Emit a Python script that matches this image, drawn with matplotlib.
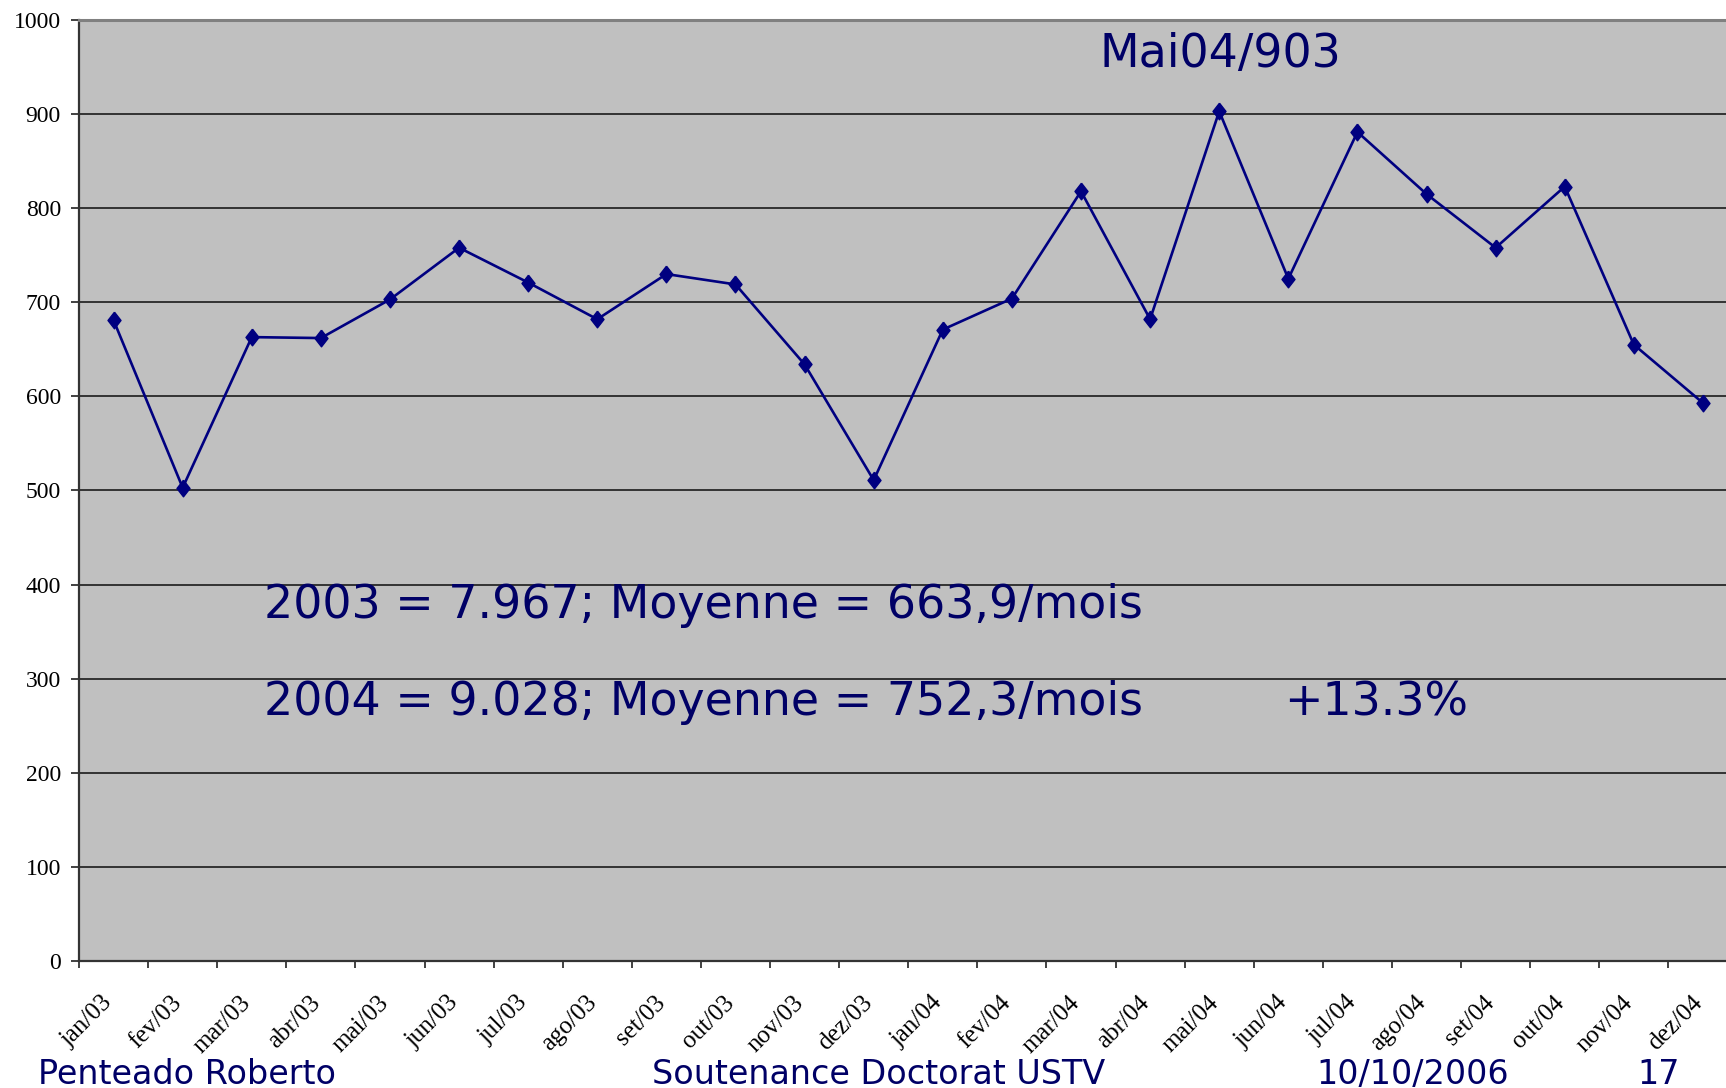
import matplotlib
matplotlib.use("Agg")
import matplotlib.pyplot as plt
from matplotlib.transforms import ScaledTranslation
import numpy as np

# ---- data ----
months = ["jan/03", "fev/03", "mar/03", "abr/03", "mai/03", "jun/03",
          "jul/03", "ago/03", "set/03", "out/03", "nov/03", "dez/03",
          "jan/04", "fev/04", "mar/04", "abr/04", "mai/04", "jun/04",
          "jul/04", "ago/04", "set/04", "out/04", "nov/04", "dez/04"]
values_2003 = [681, 503, 663, 662, 703, 758, 721, 682, 730, 719, 634, 511]
values_2004 = [671, 704, 818, 682, 903, 725, 881, 815, 758, 823, 655, 593]
values = values_2003 + values_2004
yticks = [0, 100, 200, 300, 400, 500, 600, 700, 800, 900, 1000]

NAVY_TXT = "#000066"
NAVY = "#000080"

W, H = 1726, 1088
fig = plt.figure(figsize=(W / 100, H / 100), dpi=100)
fig.patch.set_facecolor("white")

left, right = 79, 1737.5
top, bottom = 20, 961
ax = fig.add_axes([left / W, (H - bottom) / H, (right - left) / W, (bottom - top) / H])
ax.set_facecolor("#C0C0C0")

x = np.arange(len(values))
diamond = [(0, 1), (0.78, 0), (0, -1), (-0.78, 0), (0, 1)]
ax.plot(x, values, color=NAVY, lw=1.9, marker=diamond, ms=12,
        markerfacecolor=NAVY, markeredgecolor=NAVY, zorder=3, clip_on=False)

ax.set_xlim(-0.5, len(values) - 0.5)
ax.set_ylim(0, 1000)
ax.set_yticks(yticks)
ax.set_yticklabels([str(v) for v in yticks], fontfamily="Liberation Serif", fontsize=17)
ax.yaxis.grid(True, color="#333333", lw=1.4)
ax.set_axisbelow(True)

ax.set_xticks(x)
ax.set_xticklabels(months, fontfamily="Liberation Serif", fontsize=18,
                   rotation=45, ha="right", va="top", rotation_mode="anchor")
ax.set_xticks(np.arange(-0.5, len(values), 1.0), minor=True)
ax.tick_params(axis="x", which="major", length=0, pad=22)
ax.tick_params(axis="x", which="minor", length=5, width=1.3, color="#333333", direction="out")
ax.tick_params(axis="y", length=5.8, width=1.3, color="#333333", pad=7.2, direction="out")
off = ScaledTranslation(-12 / 100, 0, fig.dpi_scale_trans)
for lab in ax.get_xticklabels():
    lab.set_transform(lab.get_transform() + off)

for s in ["left", "bottom"]:
    ax.spines[s].set_color("#333333")
    ax.spines[s].set_linewidth(1.6)
ax.spines["top"].set_color("#808080")
ax.spines["top"].set_linewidth(2.2)
ax.spines["right"].set_visible(False)

# ---- annotations (slide text) ----
fam = "DejaVu Sans"
fig.text(1220 / W, (H - 67) / H, "Mai04/903", ha="center", va="baseline",
         fontsize=33, color=NAVY_TXT, family=fam)
fig.text(264 / W, (H - 618) / H, "2003 = 7.967; Moyenne = 663,9/mois", ha="left",
         va="baseline", fontsize=33, color=NAVY_TXT, family=fam)
fig.text(264 / W, (H - 715) / H, "2004 = 9.028; Moyenne = 752,3/mois", ha="left",
         va="baseline", fontsize=33, color=NAVY_TXT, family=fam)
fig.text(1284 / W, (H - 716) / H, "+13.3%", ha="left", va="baseline",
         fontsize=33, color=NAVY_TXT, family=fam)

for xp, s in [(38, "Penteado Roberto"), (652, "Soutenance Doctorat USTV"),
              (1316, "10/10/2006"), (1637, "17")]:
    fig.text(xp / W, (H - 1084) / H, s, ha="left", va="baseline",
             fontsize=24, color=NAVY_TXT, family=fam)

fig.savefig("out.png", dpi=100)
